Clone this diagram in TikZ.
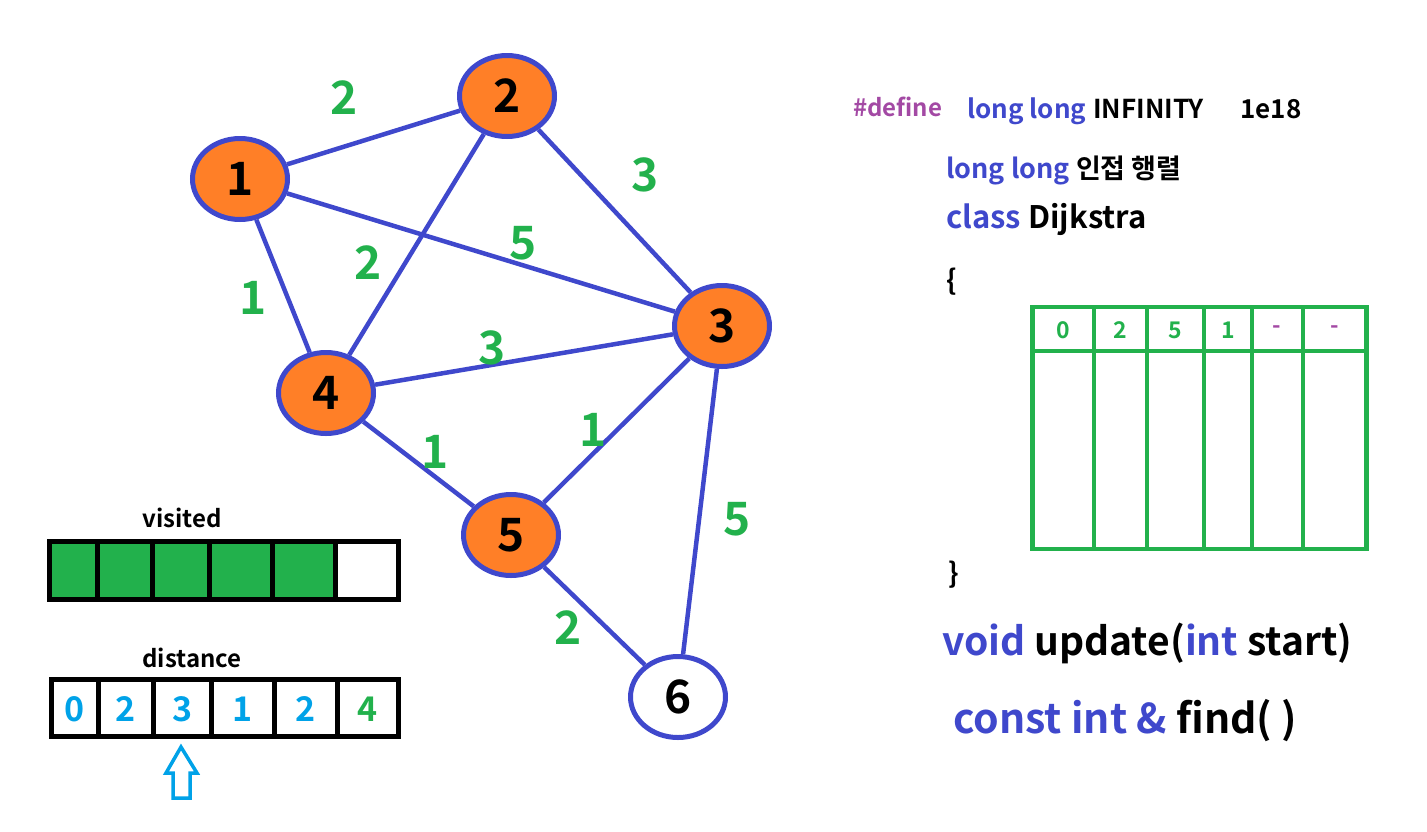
\documentclass[tikz,border=0pt]{standalone}
\usepackage{fontspec}
\setmainfont{Noto Sans CJK KR}[BoldFont={Noto Sans CJK KR Bold}]
\usetikzlibrary{shapes.geometric}
\definecolor{edgeblue}{HTML}{3F48CC}
\definecolor{nodeorange}{HTML}{FF7F27}
\definecolor{wgreen}{HTML}{22B14C}
\definecolor{turq}{HTML}{00A2E8}
\definecolor{purp}{HTML}{A349A4}
\newcommand\pxsize[1]{\fontsize{#1}{#1}\selectfont\bfseries}
\tikzset{
  vertex/.style={ellipse,draw=edgeblue,line width=5,fill=nodeorange,
    minimum width=95,minimum height=81,inner sep=0,font=\pxsize{46}},
  edge/.style={edgeblue,line width=4.5},
  weight/.style={text=wgreen,font=\pxsize{46},inner sep=0},
  cell/.style={line width=5},
  code/.style={anchor=base west,inner sep=0},
}
\begin{document}
\begin{tikzpicture}[x=1pt,y=-1pt]
    \useasboundingbox (0,0) rectangle (1427,831);
    % graph
    \node[vertex] (n1) at (240,179) {1};
    \node[vertex] (n2) at (507,96) {2};
    \node[vertex] (n3) at (722,326) {3};
    \node[vertex] (n4) at (326,393) {4};
    \node[vertex] (n5) at (511,535) {5};
    \node[vertex,fill=white] (n6) at (678,697) {6};
    \foreach \a/\b in {n1/n2,n2/n3,n1/n3,n1/n4,n2/n4,n4/n3,n4/n5,n5/n3,n3/n6,n5/n6}
      \draw[edge] (\a) -- (\b);
    \node[weight] (w12) at (344,98) {2};
    \node[weight] (w23) at (645,175) {3};
    \node[weight] (w13) at (523,243) {5};
    \node[weight] (w24) at (368,263) {2};
    \node[weight] (w14) at (253,298) {1};
    \node[weight] (w43) at (492,348) {3};
    \node[weight] (w45) at (435,452) {1};
    \node[weight] (w53) at (593,430) {1};
    \node[weight] (w36) at (737,519) {5};
    \node[weight] (w56) at (568,628) {2};
    % visited
    \node[font=\pxsize{24}] (vislabel) at (182,518) {visited};
    \foreach \a/\b/\f in {49.5/97.5/wgreen,97.5/152/wgreen,152/209.5/wgreen,
      209.5/272/wgreen,272/335.5/wgreen,335.5/398.5/white}
      \draw[cell,fill=\f] (\a,541.5) rectangle (\b,599.5);
    % distance
    \node[font=\pxsize{24}] (distlabel) at (192,658) {distance};
    \foreach \a/\b/\v/\c in {51.5/98.5/0/turq,98.5/153.5/2/turq,153.5/211.5/3/turq,
      211.5/274.5/1/turq,274.5/337.5/2/turq,337.5/398.5/4/wgreen}{
      \draw[cell] (\a,679.5) rectangle (\b,736.5);
      \node[text=\c,font=\pxsize{34}] (d\v) at ({(\a+\b)/2},709) {\v};
    }
    \draw[turq,line width=3.5,line join=miter] (181,747) -- (197,773) -- (190,773)
      -- (190,798) -- (173,798) -- (173,773) -- (166,773) -- cycle;
    % code
    \node[code,font=\pxsize{24},text=purp] (define) at (853,116) {\#define};
    \node[code,font=\pxsize{26},text=edgeblue] (ll1) at (967,118) {long long};
    \node[code,font=\pxsize{26}] (inf) at (1093,118) {INFINITY};
    \node[code,font=\pxsize{26}] (val) at (1240,118) {1e18};
    \node[code,font=\pxsize{27}] (adj) at (946,178)
      {\textcolor{edgeblue}{long long} 인접 행렬};
    \node[code,font=\pxsize{31}] (cls) at (946,228)
      {\textcolor{edgeblue}{class} Dijkstra};
    \node[code,font=\pxsize{28}] (open) at (946,290) {\{};
    \node[code,font=\pxsize{28}] (close) at (948,583) {\}};
    \node[code,font=\pxsize{39}] (upd) at (942,655)
      {\textcolor{edgeblue}{void} update(\textcolor{edgeblue}{int} start)};
    \node[code,font=\pxsize{41},text=edgeblue] (fnd) at (953,733)
      {const int \& \textcolor{black}{find( )}};
    % table
    \draw[wgreen,line width=4.5] (1032.5,307) rectangle (1366.5,549);
    \draw[wgreen,line width=4.5] (1032.5,351) -- (1366.5,351);
    \foreach \x in {1094,1147,1204,1252,1303}
      \draw[wgreen,line width=4.5] (\x,307) -- (\x,549);
    \foreach \x/\v/\c [count=\i] in {1063/0/wgreen,1120/2/wgreen,1175/5/wgreen,
      1228/1/wgreen,1277/-/purp,1335/-/purp}
      \node[text=\c,font=\pxsize{23}] (h\i) at (\x,330) {\v};
\end{tikzpicture}
\end{document}
